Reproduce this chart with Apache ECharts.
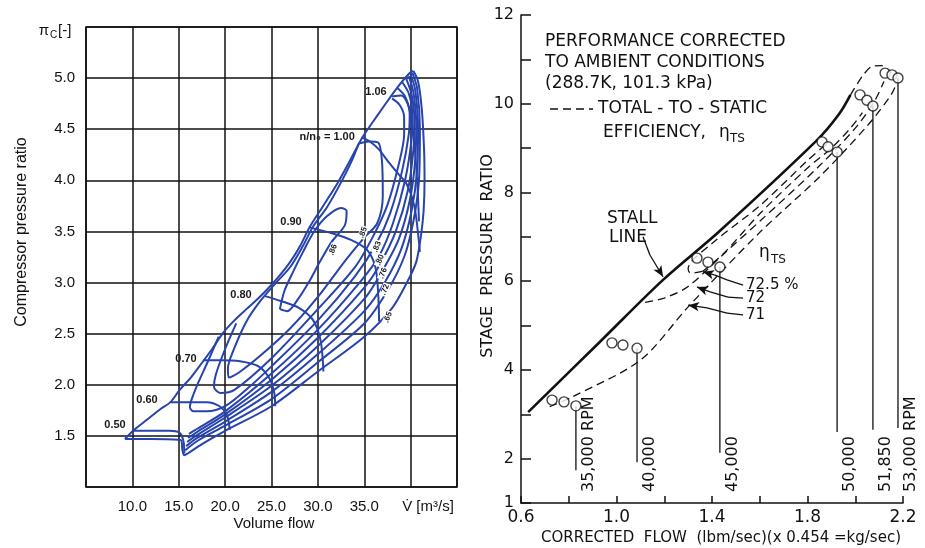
<!DOCTYPE html>
<html><head><meta charset="utf-8">
<script src="https://cdn.jsdelivr.net/npm/echarts@6/dist/echarts.min.js"></script>
<style>html,body{margin:0;padding:0;background:#fff}#c{width:925px;height:548px}</style>
</head><body><div id="c"></div>
<script>
// ================= LEFT CHART: compressor map =================
const leftXTickLabels = ['10.0','15.0','20.0','25.0','30.0','35.0'];
const leftYTickLabels = ['1.5','2.0','2.5','3.0','3.5','4.0','4.5','5.0'];

const surgeLine = [[9.2,1.47],[10.2,1.56],[11.6,1.66],[13,1.76],[14.1,1.83],[15.1,1.95],[16.3,2.07],[17.3,2.19],[18.6,2.35],[19.8,2.51],[21,2.63],[22.3,2.74],[23.5,2.84],[24.5,2.93],[25.8,3.06],[27,3.2],[28.1,3.36],[29.1,3.54],[30.5,3.74],[32.1,3.97],[33.5,4.2],[34.8,4.42],[36,4.58],[37,4.71],[38.5,4.9],[39.9,5.05],[40.3,5.07]];
const envelope = [[40.3,5.07],[40.8,4.97],[41.2,4.7],[41.45,4.3],[41.5,4.0],[41.4,3.7],[41.1,3.45],[40.6,3.2],[39.6,3.0],[38,2.75],[35,2.47],[30,2.13],[25,1.79],[20,1.55],[17.5,1.42],[16,1.33],[15.6,1.31],[15.4,1.36],[15.2,1.46],[12,1.47],[9.2,1.47]];

const speed050 = [[10.1,1.55],[12,1.55],[14,1.55],[15.1,1.53],[15.5,1.45],[15.6,1.33]];
const speed060 = [[14.1,1.83],[16,1.83],[18,1.83],[19.4,1.79],[20.2,1.7],[20.5,1.56]];
const speed070 = [[17.6,2.24],[19.5,2.24],[21.6,2.23],[23.6,2.18],[24.8,2.06],[25.3,1.92],[25.4,1.79]];
const speed080 = [[24.2,2.87],[26,2.82],[28,2.75],[29.5,2.63],[30.3,2.43],[30.6,2.13]];
const speed090 = [[29.1,3.54],[31.6,3.48],[33.5,3.42],[35.3,3.32],[36.2,3.15],[36.5,2.9],[36.6,2.62]];
const speed100 = [[34.7,4.42],[35.6,4.38],[36.6,4.3],[37.6,4.18],[38.6,4.07],[39.6,3.96],[40.4,3.75],[40.9,3.4],[41.0,3.3]];
const speed106 = [[38.0,4.82],[39.0,4.83],[39.8,4.72],[40.3,4.45],[40.7,4.0],[40.9,3.6]];

const eff72a = [[15.7,1.36],[17,1.45],[20,1.60],[25,1.86],[30,2.22],[35,2.6],[37.5,2.92],[39.3,3.25],[40.3,3.6],[40.9,4.0],[41.0,4.5],[40.7,4.9],[40.2,5.05]];
const eff72b = [[15.8,1.40],[17,1.48],[20,1.64],[25,1.93],[30,2.3],[35,2.72],[37.2,3.0],[39,3.33],[40.1,3.7],[40.7,4.1],[40.8,4.5],[40.5,4.88],[40.0,5.04]];
const eff76 = [[15.9,1.44],[17,1.51],[20,1.68],[25,1.99],[30,2.38],[35,2.84],[36.8,3.09],[38.7,3.42],[39.9,3.8],[40.5,4.2],[40.6,4.55],[40.3,4.86],[39.8,5.02]];
const eff78 = [[16.0,1.48],[17,1.54],[20,1.71],[25,2.05],[30,2.46],[35,2.95],[36.7,3.18],[38.4,3.5],[39.7,3.9],[40.3,4.3],[40.4,4.6],[40.1,4.84],[39.5,5.0]];
const eff80 = [[16.1,1.52],[17,1.57],[20,1.74],[25,2.11],[30,2.54],[34.5,3.0],[36.6,3.26],[38.1,3.58],[39.4,4.0],[40.1,4.4],[40.2,4.65],[39.8,4.85],[39.1,4.96]];
const eff83 = [[19.3,2.47],[18.2,2.24],[17.0,2.0],[16.4,1.86],[16.2,1.78],[16.6,1.74],[18,1.74],[20,1.79],[22.5,1.97],[25,2.18],[30,2.63],[34,3.06],[36.3,3.38],[37.8,3.68],[39.1,4.1],[39.8,4.45],[39.9,4.65],[39.4,4.82],[38.6,4.9]];
const eff84 = [[21.2,2.6],[20.0,2.35],[19.0,2.1],[18.8,1.98],[19.5,1.92],[21,1.95],[25,2.26],[30,2.74],[34,3.15],[36,3.46],[37.5,3.76],[38.7,4.15],[39.3,4.45],[39.3,4.62],[38.8,4.74],[38.0,4.8]];
const eff85 = [[34.4,4.36],[35.5,4.38],[36.5,4.37],[36.9,4.2],[37.0,3.85],[36.4,3.58],[35,3.44],[33,3.22],[30,2.86],[27,2.55],[24,2.3],[21.5,2.12],[20.4,2.07],[20.3,2.16],[21.0,2.36],[22.3,2.62],[23.8,2.82],[25.5,3.0],[27,3.15],[28.4,3.36],[29.5,3.55],[31.0,3.74],[32.5,3.98],[33.6,4.18],[34.4,4.36]];
const eff86 = [[25.9,2.74],[26.4,2.92],[27.3,3.1],[28.4,3.3],[29.6,3.5],[31.0,3.65],[32.5,3.73],[33.1,3.7],[32.9,3.56],[31.5,3.4],[30.2,3.2],[29,3.0],[27.8,2.83],[26.7,2.72],[25.9,2.74]];

const speedLabels = ['0.50','0.60','0.70','0.80','0.90','n/n\u2080 = 1.00','1.06'];
const speedLabelX = [8.13,11.58,15.78,21.71,27.1,31.0,36.27];
const speedLabelY = [1.61,1.85,2.25,2.88,3.59,4.42,4.86];
const effLabels = ['.86','.85','.83','.80','.76','.72','.65'];
const effLabelX = [31.63,34.87,36.37,36.7,37.02,37.24,37.56];
const effLabelY = [3.32,3.49,3.35,3.22,3.09,2.93,2.66];

// ================= RIGHT CHART: stage pressure ratio =================
const rightXTickLabels = ['0.6','1.0','1.4','1.8','2.2'];
const rightYTickLabels = ['1','2','4','6','8','10','12'];

const stallX = [0.63,0.93,1.195,1.43,1.84,1.93,1.98];
const stallY = [3.05,4.63,6.03,7.12,9.18,9.75,10.2];

const eta725aX = [1.36,1.31,1.30,1.40,1.6,1.80,1.87];
const eta725aY = [6.22,6.18,6.28,6.85,7.70,8.72,9.05];
const eta725bX = [1.36,1.45,1.6,1.80,1.90,1.98,2.03];
const eta725bY = [6.22,6.63,7.52,8.55,9.0,9.45,9.8];
const eta72X = [1.12,1.20,1.30,1.45,1.6,1.85,2.0,2.08,2.12];
const eta72Y = [5.52,5.62,5.88,6.62,7.35,8.6,9.45,10.05,10.5];
const eta71X = [0.72,0.81,1.1,1.30,1.6,1.85,2.05,2.15,2.18];
const eta71Y = [3.17,3.38,4.22,5.42,7.1,8.35,9.5,10.2,10.55];
const etaTopX = [1.98,2.03,2.07,2.11,2.15];
const etaTopY = [10.2,10.62,10.84,10.86,10.7];

const rpmNames = ['35,000 RPM','40,000','45,000','50,000','51,850','53,000 RPM'];
const rpmPointX = [[0.730,0.780,0.830],[0.981,1.027,1.086],[1.337,1.383,1.433],[1.861,1.886,1.924],[2.020,2.049,2.074],[2.125,2.154,2.179]];
const rpmPointY = [[3.32,3.28,3.19],[4.61,4.56,4.49],[6.52,6.43,6.32],[9.14,9.03,8.91],[10.20,10.08,9.95],[10.69,10.65,10.58]];
const rpmLineBottom = [1.74,1.92,2.13,2.60,2.65,2.69];

// leader lines (annotation arrows) in data coordinates
const stallLeaderX = [1.111,1.140,1.195];
const stallLeaderY = [7.0,6.59,6.1];
const lead725X = [1.530,1.463,1.410,1.362];
const lead725Y = [5.91,6.03,6.14,6.21];
const lead72X = [1.530,1.467,1.392,1.337];
const lead72Y = [5.62,5.64,5.76,5.87];
const lead71X = [1.530,1.463,1.379,1.300];
const lead71Y = [5.24,5.28,5.40,5.46];

// ================= BUILD =================
const BLUE = '#2743ad';
const INK = '#111';
const LFONT = '"Liberation Sans", Arial, "DejaVu Sans"';
const RFONT = '"DejaVu Sans"';
const zip = (xs, ys) => xs.map((x, i) => [x, ys[i]]);

function blueCurve(pts) {
  return {type:'line', xAxisIndex:0, yAxisIndex:0, data:pts, smooth:0.3, symbol:'none',
    lineStyle:{color:BLUE, width:2}, silent:true, animation:false, z:3};
}
function blackCurve(pts, width, dashed, smooth) {
  return {type:'line', xAxisIndex:1, yAxisIndex:1, data:pts, smooth:smooth, symbol:'none', clip:false,
    lineStyle:{color:INK, width:width, type: dashed ? [8,5] : 'solid'}, silent:true, animation:false, z:3};
}
function leader(xs, ys) {
  const segs = [];
  for (let i = 0; i < xs.length - 1; i++) {
    const last = i === xs.length - 2;
    segs.push([{coord:[xs[i], ys[i]], symbol:'none'}, {coord:[xs[i+1], ys[i+1]], symbol: last ? 'arrow' : 'none', symbolSize: last ? [7,11] : 0}]);
  }
  return {type:'line', xAxisIndex:1, yAxisIndex:1, data:[], symbol:'none', silent:true, animation:false,
    markLine:{silent:true, animation:false, symbol:['none','none'], label:{show:false},
      lineStyle:{color:INK, width:1.3, type:'solid'}, data:segs}};
}

const series = [];
[surgeLine, envelope, speed050, speed060, speed070, speed080, speed090, speed100, speed106,
 eff72a, eff72b, eff76, eff78, eff80, eff83, eff84, eff85, eff86].forEach(c => series.push(blueCurve(c)));

series.push(blackCurve(zip(stallX, stallY), 2.6, false, 0.35));
series.push(blackCurve(zip(eta725aX, eta725aY), 1.3, true, 0.3));
series.push(blackCurve(zip(eta725bX, eta725bY), 1.3, true, 0.3));
series.push(blackCurve(zip(eta72X, eta72Y), 1.3, true, 0.3));
series.push(blackCurve(zip(eta71X, eta71Y), 1.3, true, 0.3));
series.push(blackCurve(zip(etaTopX, etaTopY), 1.3, true, 0.3));
rpmPointX.forEach((xs, i) => {
  const x = xs[xs.length - 1], y = rpmPointY[i][xs.length - 1];
  series.push(blackCurve([[x, y], [x, rpmLineBottom[i]]], 1.3, false, 0));
});
const circles = [];
rpmPointX.forEach((xs, i) => xs.forEach((x, j) => circles.push([x, rpmPointY[i][j]])));
series.push({type:'scatter', xAxisIndex:1, yAxisIndex:1, data:circles, symbol:'circle', symbolSize:10, clip:false,
  itemStyle:{color:'#fff', borderColor:INK, borderWidth:1.4}, silent:true, animation:false, z:6});
series.push(leader(stallLeaderX, stallLeaderY));
series.push(leader(lead725X, lead725Y));
series.push(leader(lead72X, lead72Y));
series.push(leader(lead71X, lead71Y));

const chart = echarts.init(document.getElementById('c'), null, {renderer:'canvas'});
chart.setOption({
  animation:false,
  backgroundColor:'#fff',
  grid:[
    {left:86, top:27, width:371, height:460, show:true, borderColor:INK, borderWidth:1.6, backgroundColor:'transparent'},
    {left:521, top:15, width:382, height:488, show:false}
  ],
  xAxis:[
    {gridIndex:0, type:'value', min:5, max:45, interval:5,
      axisLine:{show:false}, axisTick:{show:false},
      splitLine:{show:true, lineStyle:{color:INK, width:1.5}},
      axisLabel:{margin:12, color:'#111', fontSize:15, fontFamily:LFONT,
        formatter:v => leftXTickLabels.includes(v.toFixed(1)) ? v.toFixed(1) : ''}},
    {gridIndex:1, type:'value', min:0.6, max:2.2, interval:0.2,
      axisLine:{show:true, onZero:false, lineStyle:{color:INK, width:1.5}},
      axisTick:{show:true, inside:true, length:7, lineStyle:{color:INK, width:1.5}},
      splitLine:{show:false},
      axisLabel:{margin:6, color:INK, fontSize:17, fontFamily:RFONT,
        formatter:v => rightXTickLabels.includes(v.toFixed(1)) ? v.toFixed(1) : ''}}
  ],
  yAxis:[
    {gridIndex:0, type:'value', min:1, max:5.5, interval:0.5,
      axisLine:{show:false}, axisTick:{show:false},
      splitLine:{show:true, lineStyle:{color:INK, width:1.5}},
      axisLabel:{margin:11, color:'#111', fontSize:15, fontFamily:LFONT,
        formatter:v => leftYTickLabels.includes(v.toFixed(1)) ? v.toFixed(1) : ''}},
    {gridIndex:1, type:'value', min:1, max:12, interval:1,
      axisLine:{show:true, onZero:false, lineStyle:{color:INK, width:1.5}},
      axisTick:{show:true, inside:true, length:10, lineStyle:{color:INK, width:1.5}},
      splitLine:{show:false},
      axisLabel:{margin:7, color:INK, fontSize:16, fontFamily:RFONT,
        formatter:v => rightYTickLabels.includes(String(Math.round(v))) ? String(Math.round(v)) : ''}}
  ],
  series:series
});

// ---------- text annotations ----------
function txt(x, y, text, font, align, vAlign, rot, extra) {
  const st = Object.assign({text:text, font:font, fill:INK, align:align, textAlign:align,
    verticalAlign:vAlign, textVerticalAlign:vAlign}, extra || {});
  return {type:'text', x:x, y:y, rotation:rot || 0, silent:true, z:100, style:st};
}
const L = (x, y) => chart.convertToPixel({xAxisIndex:0, yAxisIndex:0}, [x, y]);
const R = (x, y) => chart.convertToPixel({xAxisIndex:1, yAxisIndex:1}, [x, y]);
const g = [];

// left chart
g.push(txt(274, 524, 'Volume flow', '15px ' + LFONT, 'center', 'middle'));
g.push(txt(22, 232, 'Compressor pressure ratio', '16px ' + LFONT, 'center', 'middle', Math.PI/2));
g.push(txt(428, 507, 'V\u0307 [m\u00b3/s]', '15px ' + LFONT, 'center', 'middle'));
g.push(txt(44, 31, '\u03c0', '15px ' + LFONT, 'center', 'middle'));
g.push(txt(50, 35, 'C', '10px ' + LFONT, 'left', 'middle'));
g.push(txt(58, 31, '[-]', '15px ' + LFONT, 'left', 'middle'));
speedLabels.forEach((s, i) => {
  const p = L(speedLabelX[i], speedLabelY[i]);
  g.push(txt(p[0], p[1], s, 'bold 11px ' + LFONT, 'center', 'middle', 0, {fill:'#1a1a1a'}));
});
effLabels.forEach((s, i) => {
  const p = L(effLabelX[i], effLabelY[i]);
  g.push(txt(p[0], p[1], s, 'bold 8px ' + LFONT, 'center', 'middle', 1.2,
    {fill:'#1a1a1a', backgroundColor:'#fff', padding:[0,1]}));
});

// right chart
g.push(txt(721, 538, 'CORRECTED  FLOW  (lbm/sec)(x 0.454 =kg/sec)', '15px ' + RFONT, 'center', 'middle'));
g.push(txt(488, 256, 'STAGE  PRESSURE  RATIO', '16px ' + RFONT, 'center', 'middle', Math.PI/2));
g.push(txt(545, 42, 'PERFORMANCE CORRECTED', '17px ' + RFONT, 'left', 'middle'));
g.push(txt(545, 63, 'TO AMBIENT CONDITIONS', '17px ' + RFONT, 'left', 'middle'));
g.push(txt(545, 84, '(288.7K, 101.3 kPa)', '17px ' + RFONT, 'left', 'middle'));
g.push({type:'line', silent:true, z:100, shape:{x1:550, y1:109, x2:593, y2:109},
  style:{stroke:INK, lineWidth:1.4, lineDash:[8,5]}});
g.push(txt(598, 109, 'TOTAL - TO - STATIC', '17px ' + RFONT, 'left', 'middle'));
g.push(txt(603, 133, 'EFFICIENCY,', '17px ' + RFONT, 'left', 'middle'));
g.push(txt(719, 133, '\u03b7', '17px ' + RFONT, 'left', 'middle'));
g.push(txt(730, 139, 'TS', '12px ' + RFONT, 'left', 'middle'));
g.push(txt(607, 219, 'STALL', '17px ' + RFONT, 'left', 'middle'));
g.push(txt(609, 238, 'LINE', '17px ' + RFONT, 'left', 'middle'));
g.push(txt(759, 253, '\u03b7', '17px ' + RFONT, 'left', 'middle'));
g.push(txt(771, 260, 'TS', '12px ' + RFONT, 'left', 'middle'));
const a725 = R(lead725X[0], lead725Y[0]);
const a72 = R(lead72X[0], lead72Y[0]);
const a71 = R(lead71X[0], lead71Y[0]);
g.push(txt(a725[0] + 3, a725[1], '72.5 %', '15px ' + RFONT, 'left', 'middle'));
g.push(txt(a72[0] + 3, a72[1], '72', '15px ' + RFONT, 'left', 'middle'));
g.push(txt(a71[0] + 3, a71[1], '71', '15px ' + RFONT, 'left', 'middle'));
rpmPointX.forEach((xs, i) => {
  const p = R(xs[xs.length - 1], 1);
  g.push(txt(p[0] + 13, 492, rpmNames[i], '16px ' + RFONT, 'left', 'middle', Math.PI/2));
});
chart.setOption({graphic:g});
</script>
</body></html>
